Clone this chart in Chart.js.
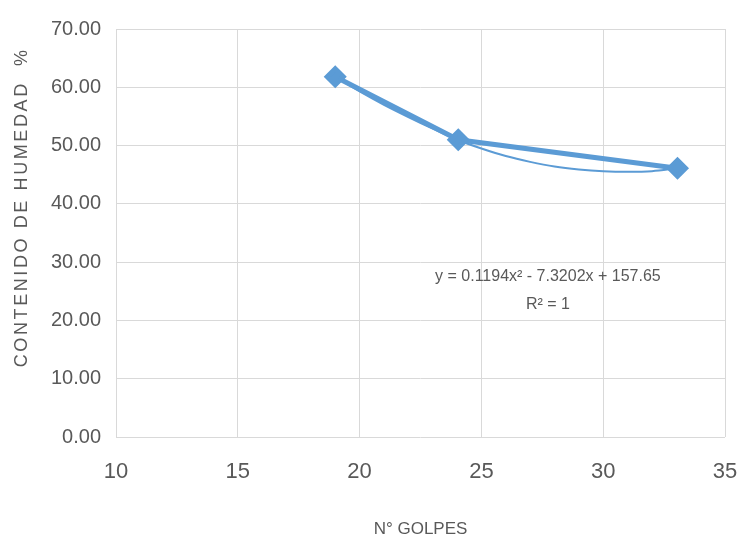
<!DOCTYPE html>
<html>
<head>
<meta charset="utf-8">
<script src="https://cdn.jsdelivr.net/npm/chart.js@4/dist/chart.umd.min.js"></script>
<style>
  html, body { margin: 0; padding: 0; background: #fff; }
  #wrap { width: 738px; height: 543px; }
</style>
</head>
<body>
<div id="wrap"><canvas id="mainChart"></canvas></div>
<script>
// puntos medidos (N° golpes vs contenido de humedad)
const golpes = [19.0, 24.05, 33.05];
const humedad = [61.8, 51.0, 46.1];

// linea de tendencia polinomica
const tendX = [19.0, 20, 21, 22, 23, 24, 25, 26, 27, 28, 29, 30, 31, 32, 33.05];
const tendY = [61.8, 59.3, 57.0, 54.9, 52.9, 51.0, 49.5, 48.2, 47.2, 46.4, 45.9, 45.6, 45.5, 45.6, 46.1];

const ecuacion = 'y = 0.1194x² - 7.3202x + 157.65';
const r2 = 'R² = 1';
const tituloY = 'CONTENIDO DE HUMEDAD  %';

const gris = '#595959';
const azul = '#5b9bd5';
const fuente = '"Liberation Sans Narrow", "Liberation Sans", sans-serif';

const textos = {
    id: 'textos',
    afterDatasetsDraw(chart) {
        const ctx = chart.ctx;
        const x = chart.scales.x.getPixelForValue(27.73);
        const y = chart.scales.y.getPixelForValue(27.45);
        ctx.save();
        ctx.fillStyle = gris;
        ctx.font = '16px ' + fuente;
        ctx.textAlign = 'center';
        ctx.textBaseline = 'middle';
        ctx.fillText(ecuacion, x, y);
        ctx.fillText(r2, x, y + 28);
        ctx.restore();

        // titulo del eje Y
        ctx.save();
        ctx.fillStyle = gris;
        ctx.font = '18px ' + fuente;
        ctx.letterSpacing = '2.6px';
        ctx.translate(22, chart.scales.y.getPixelForValue(39.4));
        ctx.rotate(-Math.PI / 2);
        ctx.textAlign = 'center';
        ctx.textBaseline = 'middle';
        ctx.fillText(tituloY, 0, 0);
        ctx.restore();
    }
};

new Chart(document.getElementById('mainChart').getContext('2d'), {
    type: 'scatter',
    data: {
        datasets: [
            {
                data: golpes.map((g, i) => ({ x: g, y: humedad[i] })),
                showLine: true,
                borderColor: azul,
                backgroundColor: azul,
                borderWidth: 5,
                pointStyle: 'rectRot',
                pointRadius: 8,
                pointHoverRadius: 8,
                order: 1
            },
            {
                data: tendX.map((t, i) => ({ x: t, y: tendY[i] })),
                showLine: true,
                borderColor: azul,
                borderWidth: 2,
                pointRadius: 0,
                cubicInterpolationMode: 'monotone',
                order: 2
            }
        ]
    },
    options: {
        responsive: true, maintainAspectRatio: false, animation: false,
        layout: { padding: { left: 7, right: 13, top: 29, bottom: 0 } },
        plugins: { legend: { display: false }, tooltip: { enabled: false } },
        scales: {
            x: {
                type: 'linear', min: 10, max: 35,
                ticks: { stepSize: 5, color: gris, font: { family: fuente, size: 22 }, padding: 22 },
                grid: { color: '#d9d9d9', drawTicks: false },
                border: { display: false },
                title: { display: true, text: 'N° GOLPES', color: gris, font: { family: fuente, size: 17 }, padding: { top: 4, bottom: 3 } },
                afterFit: (s) => { s.height = 106; s.paddingLeft = 0; s.paddingRight = 0; }
            },
            y: {
                min: 0, max: 70,
                ticks: { stepSize: 10, color: gris, font: { family: fuente, size: 20 }, padding: 15,
                         callback: (v) => v.toFixed(2) },
                grid: { color: '#d9d9d9', drawTicks: false },
                border: { display: false },
                afterFit: (s) => { s.width = 109; s.paddingTop = 0; s.paddingBottom = 0; }
            }
        }
    },
    plugins: [textos]
});
</script>
</body>
</html>
